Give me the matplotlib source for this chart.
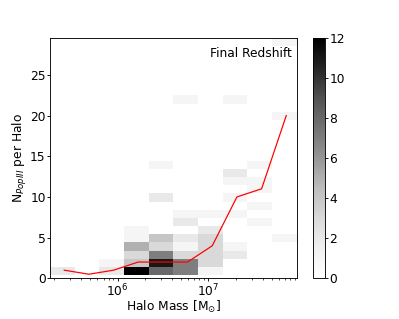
import numpy as np
import matplotlib
matplotlib.use("Agg")
import matplotlib.pyplot as plt

# ---- data ----
log_mass_min = 5.255
log_mass_max = 7.975
n_mass_bins = 10
n_min, n_max, n_rows = 0.4, 29.5, 29

# occupied histogram cells: (mass bin, N bin, count)
cells_col = [0, 2, 2, 3, 3, 3, 3, 3, 3, 4, 4, 4, 4, 4, 4, 4,
             5, 5, 5, 5, 5, 5, 5, 5, 6, 6, 6, 6, 6, 6, 6,
             7, 7, 7, 7, 7, 7, 7, 8, 8, 8, 8, 8, 9, 9, 9]
cells_row = [0, 0, 1, 0, 1, 2, 3, 4, 5, 0, 1, 2, 3, 4, 9, 13,
             0, 1, 2, 3, 4, 6, 7, 21, 0, 1, 2, 3, 4, 5, 7,
             2, 3, 7, 9, 11, 12, 21, 6, 8, 10, 11, 13, 4, 19, 28]
cells_count = [2, 2, 1, 12, 4, 3, 5, 1, 1, 8, 11, 7, 3, 4, 2, 1,
               7, 7, 3, 1, 2, 2, 1, 1, 1, 3, 3, 3, 3, 2, 1,
               2, 1, 1, 1, 1, 2, 1, 1, 1, 1, 1, 1, 1, 1, 1]

median_N = [1, 0.5, 1, 2, 2, 2, 4, 10, 11, 20]

# ---- build arrays ----
xedges = np.logspace(log_mass_min, log_mass_max, n_mass_bins + 1)
yedges = np.linspace(n_min, n_max, n_rows + 1)
H = np.zeros((n_rows, n_mass_bins))
for c, r, v in zip(cells_col, cells_row, cells_count):
    H[r, c] = v
Hm = np.ma.masked_equal(H, 0)
xcent = 0.5 * (xedges[:-1] + xedges[1:])

plt.rcParams['font.family'] = ['DejaVu Sans']
plt.rcParams['font.size'] = 11
for a in ('xtick', 'ytick'):
    plt.rcParams[a + '.major.pad'] = 1.0
    plt.rcParams[a + '.minor.pad'] = 1.0
    plt.rcParams[a + '.major.size'] = 2.8
    plt.rcParams[a + '.minor.size'] = 1.6

fig = plt.figure(figsize=(399 / 80, 319 / 80), dpi=80)
ax = fig.add_axes([50 / 399, 1 - 278.3 / 319, 246.7 / 399, 240 / 319])
cax = fig.add_axes([312.7 / 399, 1 - 278.3 / 319, 12.3 / 399, 240 / 319])

mesh = ax.pcolormesh(xedges, yedges, Hm, cmap='Greys', vmin=0, vmax=12)
ax.plot(xcent, median_N, color='red', lw=1.1)
ax.set_xscale('log')
ax.set_xlim(xedges[0], xedges[-1])
ax.set_ylim(0, n_max)
ax.set_yticks([0, 5, 10, 15, 20, 25])
ax.set_xlabel(r'Halo Mass [M$_{\odot}$]', labelpad=0)
ax.set_ylabel(r'N$_{PopIII}$ per Halo', labelpad=1)
ax.text(0.98, 0.965, 'Final Redshift', transform=ax.transAxes,
        ha='right', va='top')

cb = fig.colorbar(mesh, cax=cax)
cb.set_ticks([0, 2, 4, 6, 8, 10, 12])

fig.savefig('out.png', dpi=80)
